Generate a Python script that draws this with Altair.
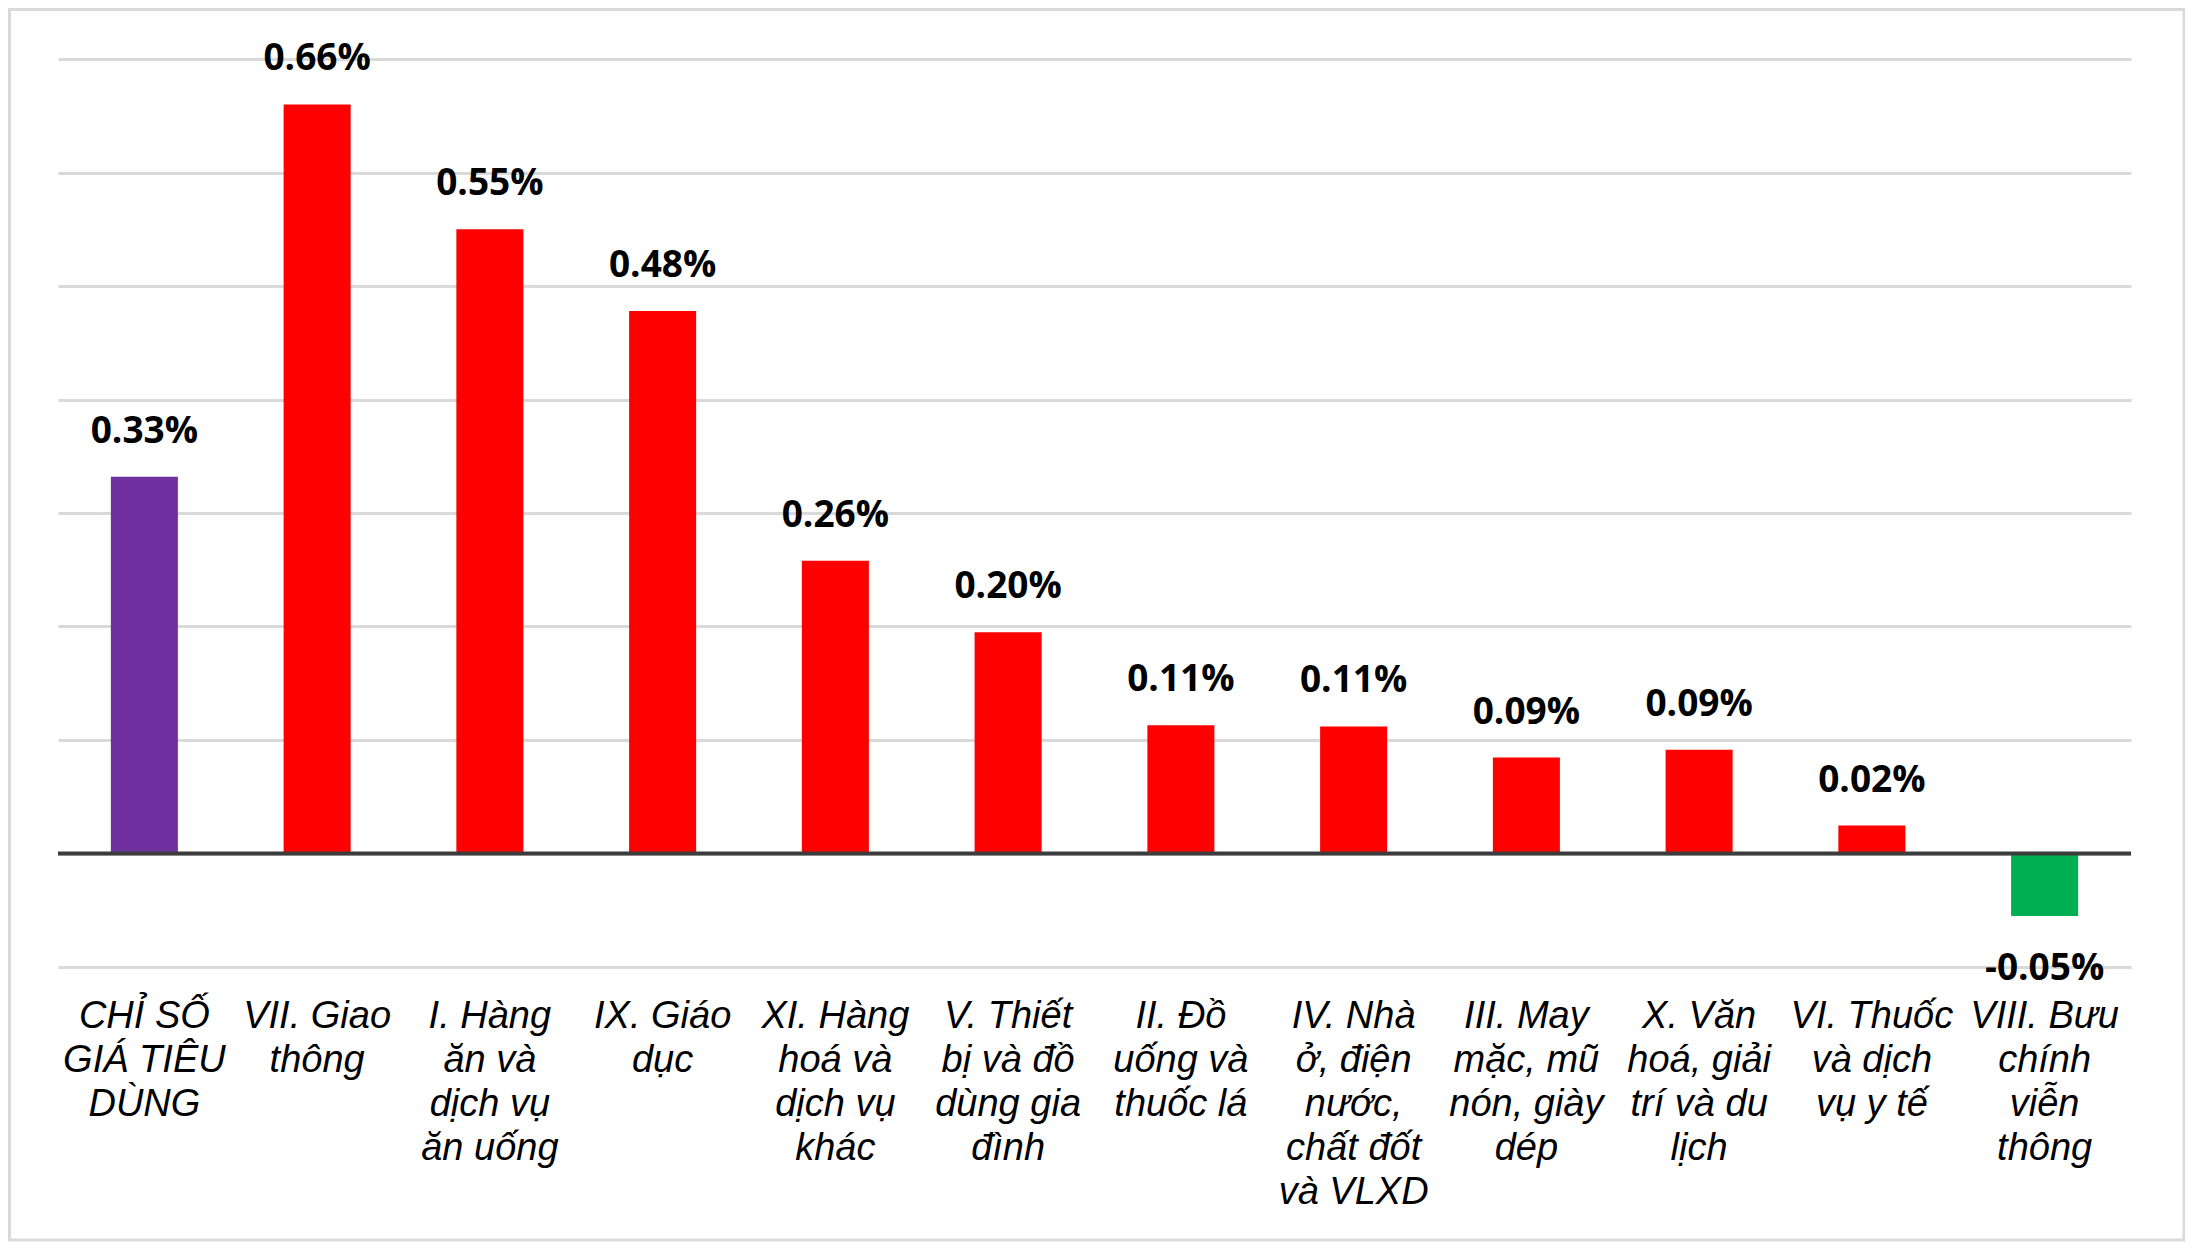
import altair as alt
import pandas as pd

categories = [
    "CHỈ SỐ\nGIÁ TIÊU\nDÙNG",
    "VII. Giao\nthông",
    "I. Hàng\năn và\ndịch vụ\năn uống",
    "IX. Giáo\ndục",
    "XI. Hàng\nhoá và\ndịch vụ\nkhác",
    "V. Thiết\nbị và đồ\ndùng gia\nđình",
    "II. Đồ\nuống và\nthuốc lá",
    "IV. Nhà\nở, điện\nnước,\nchất đốt\nvà VLXD",
    "III. May\nmặc, mũ\nnón, giày\ndép",
    "X. Văn\nhoá, giải\ntrí và du\nlịch",
    "VI. Thuốc\nvà dịch\nvụ y tế",
    "VIII. Bưu\nchính\nviễn\nthông",
]
# bar heights
values = [0.332, 0.66, 0.55, 0.478, 0.258, 0.195, 0.113, 0.112, 0.0845, 0.0915, 0.0246, -0.055]
# data labels as printed on the chart
value_labels = ["0.33%", "0.66%", "0.55%", "0.48%", "0.26%", "0.20%", "0.11%", "0.11%",
                "0.09%", "0.09%", "0.02%", "-0.05%"]
bar_colors = ["#7030A0"] + ["#FF0000"] * 10 + ["#00B050"]
grid_values = [-0.1, 0.0, 0.1, 0.2, 0.3, 0.4, 0.5, 0.6, 0.7]

df = pd.DataFrame({"cat": categories, "value": values, "label": value_labels,
                   "color": bar_colors})

W, H = 2073, 908

x = alt.X(
    "cat:N",
    sort=None,
    scale=alt.Scale(paddingInner=0.612, paddingOuter=0.306),
    axis=alt.Axis(
        title=None,
        labelExpr="split(datum.label, '\\n')",
        labelAngle=0,
        labelAlign="center",
        labelBaseline="alphabetic",
        labelPadding=60,
        ticks=False,
        tickSize=0,
        domain=False,
        grid=False,
        labelFont="Liberation Sans",
        labelFontStyle="italic",
        labelFontSize=38,
        labelLineHeight=44,
        labelColor="#000000",
        labelLimit=0,
        labelOverlap=False,
    ),
)
y = alt.Y(
    "value:Q",
    scale=alt.Scale(domain=[-0.1, 0.7], nice=False),
    axis=alt.Axis(
        title=None,
        values=grid_values,
        labels=False,
        ticks=False,
        domain=False,
        grid=True,
        gridColor="#D9D9D9",
        gridWidth=3,
    ),
)

border = alt.Chart(pd.DataFrame({"a": [0]})).mark_rect(
    fillOpacity=0, stroke="#D9D9D9", strokeWidth=3
).encode(
    x=alt.value(-48.5), x2=alt.value(W + 53), y=alt.value(-49.5), y2=alt.value(H + 273)
)

bars = alt.Chart(df).mark_bar().encode(
    x=x, y=y, y2=alt.datum(0), color=alt.Color("color:N", scale=None)
)

zero_rule = alt.Chart(pd.DataFrame({"z": [0]})).mark_rule(
    color="#3C3C3C", strokeWidth=4
).encode(y=alt.Y("z:Q"))

text_style = dict(baseline="alphabetic", align="center", font="Open Sans",
                  fontWeight="bold", fontSize=37, color="#000000")
text_pos = alt.Chart(df).transform_filter("datum.value >= 0").mark_text(
    dy=-34, **text_style
).encode(x=alt.X("cat:N", sort=None), y=alt.Y("value:Q"), text="label:N")
text_neg = alt.Chart(df).transform_filter("datum.value < 0").mark_text(
    dy=64, **text_style
).encode(x=alt.X("cat:N", sort=None), y=alt.Y("value:Q"), text="label:N")

chart = alt.layer(border, bars, zero_rule, text_pos, text_neg).properties(
    width=W,
    height=H,
    autosize=alt.AutoSizeParams(type="none"),
    padding={"left": 50, "top": 51, "right": 54, "bottom": 275},
    background="#FFFFFF",
).configure_view(strokeWidth=0)

chart.save("out.html", embed_options={"renderer": "svg", "actions": False})
